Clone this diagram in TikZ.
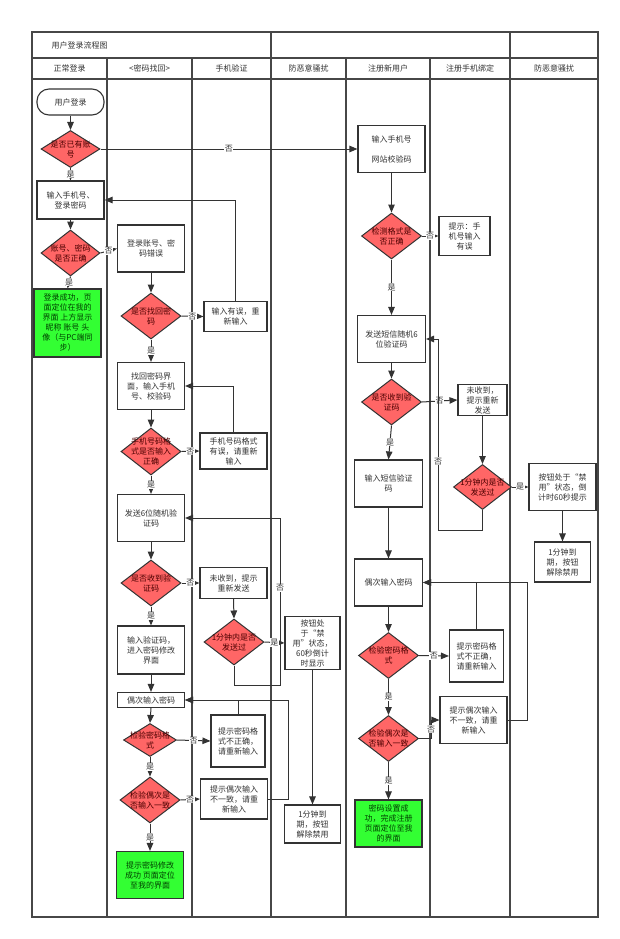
\documentclass[tikz,border=0pt]{standalone}
\usepackage{fontspec}
\setmainfont{Noto Sans CJK SC}
\usetikzlibrary{shapes.geometric,arrows.meta}
\definecolor{dred}{HTML}{FF6666}
\definecolor{lgreen}{HTML}{33FF33}
\definecolor{ink}{HTML}{333333}

\begin{document}
\begin{tikzpicture}[x=1pt,y=-1pt,
        font=\fontsize{8pt}{10pt}\selectfont,
        lane/.style={draw=ink!90, line width=1.2pt},
        wh/.style 2 args={minimum width=#1pt, minimum height=#2pt},
        box/.style={draw=ink, line width=1.1pt, fill=white, text=ink, align=center, inner sep=1pt},
        okbox/.style={box, fill=lgreen, text=green!25!black},
        decide/.style={diamond, draw=ink, line width=1pt, fill=dred, inner sep=0pt},
        dtext/.style={align=center, text=red!30!black, inner sep=0pt},
        flow/.style={draw=ink, line width=1pt, -{Triangle[length=8pt,width=6.5pt]}},
        yn/.style={fill=white, inner sep=0.5pt, text=ink}]
    \useasboundingbox (0,0) rectangle (620,939);

    % swimlanes
    \draw[lane] (32,32) rectangle (598,917);
    \draw[lane] (32,58) -- (598,58);
    \draw[lane] (32,79) -- (598,79);
    \draw[lane] (271,32) -- (271,917);
    \draw[lane] (510,32) -- (510,917);
    \foreach \x in {107,192,346,430}
        \draw[lane] (\x,58) -- (\x,917);
    \node[anchor=west, text=ink] (title) at (48,45.5) {用户登录流程图};
    \foreach \x/\t [count=\i] in {69.5/正常登录, 149.5/{<密码找回>}, 231.5/手机验证, 308.5/防恶意骚扰,
            388/注册新用户, 470/注册手机绑定, 554/防恶意骚扰}
        \node[text=ink] (head\i) at (\x,68.5) {\t};

    % login
    \node[box, wh={67}{26}, rounded corners=12pt] (start) at (70.5,102) {用户登录};
    \node[decide, wh={59}{37}, label={[dtext]center:是否已有账\\号}] (hasacct) at (70.5,149) {};
    \node[box, wh={67}{38}] (inputpw) at (70.5,200) {输入手机号、\\登录密码};
    \node[decide, wh={59}{46}, label={[dtext]center:账号、密码\\是否正确}] (pwok) at (70.5,253) {};
    \node[okbox, wh={67}{68}] (loginok) at (67.5,323)
        {登录成功，页\\面定位在我的\\界面 上方显示\\昵称 账号 头\\像（与PC端同\\步）};

    % find password
    \node[box, wh={67}{47}] (pwwrong) at (151,248.5) {登录账号、密\\码错误};
    \node[decide, wh={60}{46}, label={[dtext]center:是否找回密\\码}] (findpw) at (151,316) {};
    \node[box, wh={63}{30}] (reinput) at (235.5,316.5) {输入有误，重\\新输入};
    \node[box, wh={67}{47}] (findui) at (151,386) {找回密码界\\面，输入手机\\号、校验码};
    \node[decide, wh={60}{47}, label={[dtext]center:手机号码格\\式是否输入\\正确}] (phfmt) at (151,451.5) {};
    \node[box, wh={67}{36}] (phwrong) at (233.5,451) {手机号码格式\\有误，请重新\\输入};
    \node[box, wh={67}{47}] (send6) at (151,518) {发送6位随机验\\证码};
    \node[decide, wh={60}{46}, label={[dtext]center:是否收到验\\证码}] (gotcode) at (151,583) {};
    \node[box, wh={67}{31}] (notgot) at (233.5,583) {未收到，提示\\重新发送};
    \node[decide, wh={60}{46}, label={[dtext]center:1分钟内是否\\发送过}] (inmin) at (234,642) {};
    \node[box, wh={55}{53}] (disabled) at (312.5,643) {按钮处\\于“禁\\用”状态，\\60秒倒计\\时显示};
    \node[box, wh={56}{38}] (expire) at (312.5,824) {1分钟到\\期，按钮\\解除禁用};
    \node[box, wh={67}{48}] (inputcode) at (151,650) {输入验证码，\\进入密码修改\\界面};
    \node[box, wh={67}{15}] (repw) at (151,700) {偶次输入密码};
    \node[decide, wh={53}{33}, label={[dtext]center:检验密码格\\式}] (chkfmt) at (150,740) {};
    \node[box, wh={54}{52}] (fmtwrong) at (238,741) {提示密码格\\式不正确，\\请重新输入};
    \node[decide, wh={60}{46}, label={[dtext]center:检验偶次是\\否输入一致}] (chksame) at (150,800) {};
    \node[box, wh={67}{40}] (notsame) at (234,799) {提示偶次输入\\不一致，请重\\新输入};
    \node[okbox, wh={67}{47}] (changeok) at (150,875) {提示密码修改\\成功 页面定位\\至我的界面};

    % register
    \node[box, wh={67}{47}] (regin) at (391.5,149) {输入手机号\\[10pt]网站校验码};
    \node[decide, wh={60}{46}, label={[dtext]center:检测格式是\\否正确}] (regfmt) at (391.5,236) {};
    \node[box, wh={51}{39}] (regtip) at (464.5,236) {提示：手\\机号输入\\有误};
    \node[box, wh={68}{47}] (regsend) at (391.5,339) {发送短信随机6\\位验证码};
    \node[decide, wh={60}{46}, label={[dtext]center:是否收到验\\证码}] (reggot) at (391.5,402) {};
    \node[box, wh={49}{31}] (regnot) at (482.5,400) {未收到，\\提示重新\\发送};
    \node[decide, wh={58}{45}, label={[dtext]center:1分钟内是否\\发送过}] (regmin) at (482.5,487) {};
    \node[box, wh={67}{47}] (regdis) at (562.5,487) {按钮处于“禁\\用”状态，倒\\计时60秒提示};
    \node[box, wh={56}{40}] (regexp) at (562.5,562) {1分钟到\\期，按钮\\解除禁用};
    \node[box, wh={68}{47}] (regcode) at (388.5,483.5) {输入短信验证\\码};
    \node[box, wh={68}{47}] (regpw) at (388.5,582.5) {偶次输入密码};
    \node[decide, wh={60}{46}, label={[dtext]center:检验密码格\\式}] (regchk) at (388.5,655.5) {};
    \node[box, wh={54}{52}] (regfw) at (476.5,656) {提示密码格\\式不正确，\\请重新输入};
    \node[decide, wh={60}{46}, label={[dtext]center:检验偶次是\\否输入一致}] (regsame) at (388.5,738.5) {};
    \node[box, wh={67}{47}] (regns) at (473.5,720) {提示偶次输入\\不一致，请重\\新输入};
    \node[okbox, wh={67}{47}] (regok) at (388.5,823.5) {密码设置成\\功，完成注册\\页面定位至我\\的界面};
    \coordinate (back1) at (280,685);
    \coordinate (back2) at (288,799);
    \coordinate (back3) at (438,530);
    \coordinate (back4) at (527,720);

    % login flow
    \draw[flow] (start.south) -- (hasacct.north);
    \draw[flow] (hasacct.south) -- node[yn]{是} (inputpw.north);
    \draw[flow] (hasacct.east) -- node[yn]{否} (regin.west);
    \draw[flow] (inputpw.south) -- (pwok.north);
    \draw[flow] (pwok.east) -- node[yn]{否} (pwwrong.west);
    \draw[flow] (pwok.south) -- node[yn]{是} (loginok.north);

    % find password flow
    \draw[flow] (pwwrong.south) -- (findpw.north);
    \draw[flow] (findpw.east) -- node[yn]{否} (reinput.west);
    \draw[flow] (reinput.north) |- (inputpw.east);
    \draw[flow] (findpw.south) -- node[yn]{是} (findui.north);
    \draw[flow] (findui.south) -- (phfmt.north);
    \draw[flow] (phfmt.east) -- node[yn]{否} (phwrong.west);
    \draw[flow] (phwrong.north) |- (findui.east);
    \draw[flow] (phfmt.south) -- node[yn]{是} (send6.north);
    \draw[flow] (send6.south) -- (gotcode.north);
    \draw[flow] (gotcode.east) -- node[yn]{否} (notgot.west);
    \draw[flow] (notgot.south) -- (inmin.north);
    \draw[flow] (inmin.east) -- node[yn]{是} (disabled.west);
    \draw[flow] (inmin.south) |- (back1) |- node[yn, pos=0.29]{否} (send6.east);
    \draw[flow] (disabled.south) -- (expire.north);
    \draw[flow] (gotcode.south) -- node[yn]{是} (inputcode.north);
    \draw[flow] (inputcode.south) -- (repw.north);
    \draw[flow] (repw.south) -- (chkfmt.north);
    \draw[flow] (chkfmt.east) -- node[yn]{否} (fmtwrong.west);
    \draw[flow] (fmtwrong.north) |- (repw.east);
    \draw[flow] (chkfmt.south) -- node[yn]{是} (chksame.north);
    \draw[flow] (chksame.east) -- node[yn]{否} (notsame.west);
    \draw[flow] (notsame.east) -- (back2) |- (repw.east);
    \draw[flow] (chksame.south) -- node[yn]{是} (changeok.north);

    % register flow
    \draw[flow] (regin.south) -- (regfmt.north);
    \draw[flow] (regfmt.east) -- node[yn]{否} (regtip.west);
    \draw[flow] (regfmt.south) -- node[yn]{是} (regsend.north);
    \draw[flow] (regsend.south) -- (reggot.north);
    \draw[flow] (reggot.east) -- node[yn]{否} (regnot.west);
    \draw[flow] (regnot.south) -- (regmin.north);
    \draw[flow] (regmin.east) -- node[yn]{是} (regdis.west);
    \draw[flow] (regdis.south) -- (regexp.north);
    \draw[flow] (regmin.south) |- (back3) |- node[yn, pos=0.18]{否} (regsend.east);
    \draw[flow] (reggot.south) -- node[yn]{是} (regcode.north);
    \draw[flow] (regcode.south) -- (regpw.north);
    \draw[flow] (regpw.south) -- (regchk.north);
    \draw[flow] (regchk.east) -- node[yn]{否} (regfw.west);
    \draw[flow] (regfw.north) |- (regpw.east);
    \draw[flow] (regchk.south) -- node[yn]{是} (regsame.north);
    \draw[flow] (regsame.east) -- ++(12,0) |- node[yn, pos=0.25]{否} (regns.west);
    \draw[flow] (regns.east) -- (back4) |- (regpw.east);
    \draw[flow] (regsame.south) -- node[yn]{是} (regok.north);
\end{tikzpicture}
\end{document}
